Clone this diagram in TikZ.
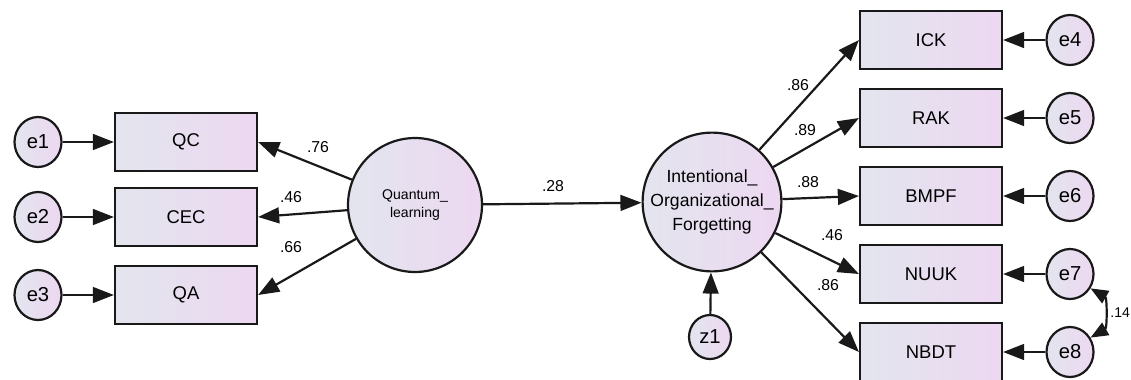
\documentclass[tikz,border=0pt]{standalone}
\usepackage{fontspec}
\setmainfont{Liberation Sans}
\usetikzlibrary{arrows.meta,positioning,shapes}
\definecolor{semLeft}{RGB}{226,229,238}
\definecolor{semRight}{RGB}{237,216,241}
\definecolor{semLine}{RGB}{25,25,25}

\begin{document}
\begin{tikzpicture}[x=0.02cm,y=-0.02cm,
    obs/.style={draw=semLine, line width=1.25pt, left color=semLeft, right color=semRight,
      minimum width=2.84cm, minimum height=1.16cm, inner sep=0pt, font=\fontsize{10.5}{12}\selectfont},
    lat/.style={circle, draw=semLine, line width=1.25pt, left color=semLeft, right color=semRight,
      minimum size=2.68cm, inner sep=0pt, align=center},
    err/.style={ellipse, draw=semLine, line width=1.25pt, left color=semLeft, right color=semRight,
      minimum width=0.94cm, minimum height=1.0cm, inner sep=0pt, font=\fontsize{11.5}{13}\selectfont},
    load/.style={draw=semLine, line width=1.25pt, -{Triangle[length=12pt,width=9pt]}},
    cov/.style={draw=semLine, line width=1.25pt, {Triangle[length=10pt,width=8pt]}-{Triangle[length=10pt,width=8pt]}},
    coef/.style={font=\fontsize{9}{10}\selectfont, inner sep=0pt}]
    \useasboundingbox (0,0) rectangle (1131,379);
    % latent variables
    \node[lat, font=\fontsize{8}{10.2}\selectfont] (ql) at (415,205) {Quantum\_\\learning};
    \node[lat, font=\fontsize{10}{13.6}\selectfont] (iof) at (712,202) {Intentional\_\\Organizational\_\\Forgetting};
    \node[err, minimum width=0.84cm, minimum height=0.88cm] (z1) at (710,337) {z1};
    % left indicators
    \node[obs] (qc) at (186,142) {QC};
    \node[obs] (cec) at (186,217) {CEC};
    \node[obs] (qa) at (186,295) {QA};
    \node[err] (e1) at (38,142) {e1};
    \node[err] (e2) at (38,217) {e2};
    \node[err] (e3) at (38,295) {e3};
    % right indicators
    \node[obs] (ick) at (931,40) {ICK};
    \node[obs] (rak) at (931,118) {RAK};
    \node[obs] (bmpf) at (931,196) {BMPF};
    \node[obs] (nuuk) at (931,274) {NUUK};
    \node[obs] (nbdt) at (931,352) {NBDT};
    \node[err] (e4) at (1070,40) {e4};
    \node[err] (e5) at (1070,118) {e5};
    \node[err] (e6) at (1070,196) {e6};
    \node[err] (e7) at (1070,274) {e7};
    \node[err] (e8) at (1070,352) {e8};
    % paths
    \draw[load] (e1) -- (qc);
    \draw[load] (e2) -- (cec);
    \draw[load] (e3) -- (qa);
    \draw[load] (ql) -- (qc.east);
    \draw[load] (ql) -- (cec.east);
    \draw[load] (ql) -- (qa.east);
    \draw[load] (ql) -- (iof);
    \draw[load] (z1) -- (iof);
    \draw[load] (iof) -- (ick.west);
    \draw[load] (iof) -- (rak.west);
    \draw[load] (iof) -- (bmpf.west);
    \draw[load] (iof) -- (nuuk.west);
    \draw[load] (iof) -- (nbdt.west);
    \draw[load] (e4) -- (ick);
    \draw[load] (e5) -- (rak);
    \draw[load] (e6) -- (bmpf);
    \draw[load] (e7) -- (nuuk);
    \draw[load] (e8) -- (nbdt);
    \draw[cov] (e7.-35) to[bend left=60] (e8.35);
    % estimates
    \node[coef] (w76) at (318,147) {.76};
    \node[coef] (w46a) at (291,197) {.46};
    \node[coef] (w66) at (291,247) {.66};
    \node[coef] (w28) at (553,186) {.28};
    \node[coef] (w86a) at (798,85) {.86};
    \node[coef] (w89) at (805,130) {.89};
    \node[coef] (w88) at (808,182) {.88};
    \node[coef] (w46b) at (832,235) {.46};
    \node[coef] (w86b) at (828,285) {.86};
    \node[coef, font=\fontsize{8}{9}\selectfont, anchor=west] (w14) at (1110,313) {.14};
\end{tikzpicture}
\end{document}
